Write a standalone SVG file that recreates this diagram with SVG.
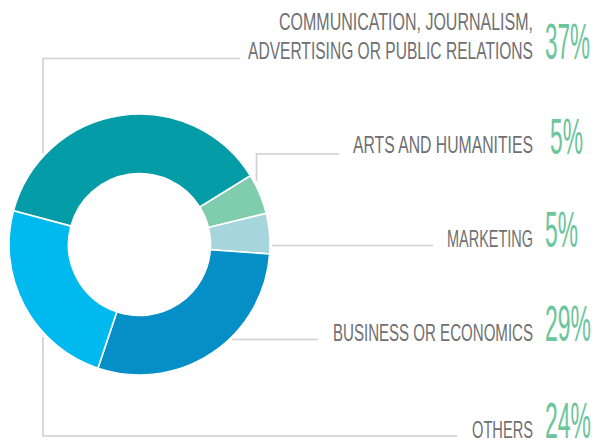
<svg xmlns="http://www.w3.org/2000/svg" width="596" height="440" viewBox="0 0 596 440">
<style>
.seg{stroke:#ffffff;stroke-width:1.6;stroke-linejoin:miter}
.conn{fill:none;stroke:#d0d0d0;stroke-width:1.6}
.lbl{font-family:"Liberation Sans",Arial,sans-serif;font-size:24px;fill:#6f7072;text-anchor:end}
.pct{font-family:"Liberation Sans",Arial,sans-serif;font-size:50px;fill:#6cc59b}
</style>
<rect width="596" height="440" fill="#ffffff"/>
<g id="connectors">
<path class="conn" d="M240,58.5 H43 V153"/>
<path class="conn" d="M339,154 H256.5 V181"/>
<path class="conn" d="M272,245.5 H433"/>
<path class="conn" d="M232,339.5 H318"/>
<path class="conn" d="M43,337 V436 H457"/>
</g>
<g id="communication">
<path class="seg" fill="#039ca7" d="M13.45,210.72 A130.5,130.5 0 0 1 250.41,175.73 L199.84,207.09 A71,71 0 0 0 70.92,226.12 Z"/>
<text class="lbl" x="533" y="30" textLength="254" lengthAdjust="spacingAndGlyphs">COMMUNICATION, JOURNALISM,</text>
<text class="lbl" x="533" y="59.3" textLength="285" lengthAdjust="spacingAndGlyphs">ADVERTISING OR PUBLIC RELATIONS</text>
<text class="pct" x="545" y="59.3" textLength="45" lengthAdjust="spacingAndGlyphs">37%</text>
</g>
<g id="arts">
<path class="seg" fill="#80cdad" d="M250.41,175.73 A130.5,130.5 0 0 1 266.23,213.37 L208.45,227.56 A71,71 0 0 0 199.84,207.09 Z"/>
<text class="lbl" x="533" y="152.7" textLength="180" lengthAdjust="spacingAndGlyphs">ARTS AND HUMANITIES</text>
<text class="pct" x="550" y="154" textLength="33" lengthAdjust="spacingAndGlyphs">5%</text>
</g>
<g id="marketing">
<path class="seg" fill="#a7d5dc" d="M266.23,213.37 A130.5,130.5 0 0 1 269.65,254.06 L210.31,249.70 A71,71 0 0 0 208.45,227.56 Z"/>
<text class="lbl" x="533" y="246.7" textLength="86" lengthAdjust="spacingAndGlyphs">MARKETING</text>
<text class="pct" x="545" y="246.7" textLength="33" lengthAdjust="spacingAndGlyphs">5%</text>
</g>
<g id="business">
<path class="seg" fill="#058fc6" d="M269.65,254.06 A130.5,130.5 0 0 1 97.88,368.18 L116.85,311.79 A71,71 0 0 0 210.31,249.70 Z"/>
<text class="lbl" x="533" y="340.7" textLength="200" lengthAdjust="spacingAndGlyphs">BUSINESS OR ECONOMICS</text>
<text class="pct" x="545" y="340.7" textLength="46" lengthAdjust="spacingAndGlyphs">29%</text>
</g>
<g id="others">
<path class="seg" fill="#00b9ef" d="M97.88,368.18 A130.5,130.5 0 0 1 13.45,210.72 L70.92,226.12 A71,71 0 0 0 116.85,311.79 Z"/>
<text class="lbl" x="533" y="438" textLength="61" lengthAdjust="spacingAndGlyphs">OTHERS</text>
<text class="pct" x="545" y="438" textLength="46" lengthAdjust="spacingAndGlyphs">24%</text>
</g>
</svg>
